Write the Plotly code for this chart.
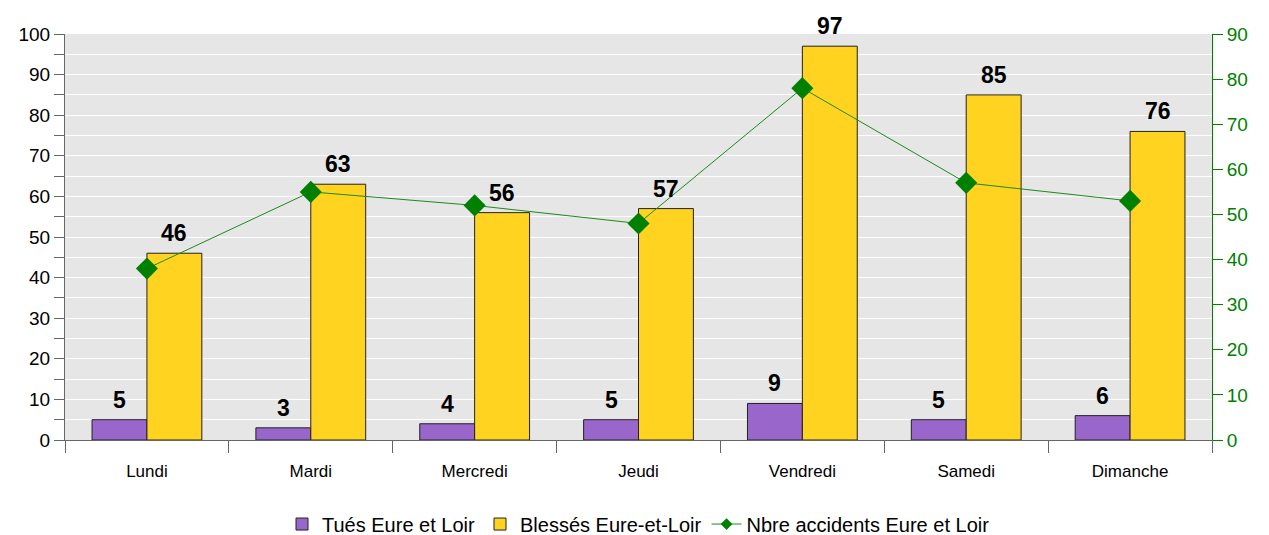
import plotly.graph_objects as go

days = ["Lundi", "Mardi", "Mercredi", "Jeudi", "Vendredi", "Samedi", "Dimanche"]
tues = [5, 3, 4, 5, 9, 5, 6]
blesses = [46, 63, 56, 57, 97, 85, 76]
accidents = [38, 55, 52, 48, 78, 57, 53]

FONT = "Liberation Sans, Arial, sans-serif"
GREEN = "#008000"
LINE_GREEN = "#1A8C1A"

fig = go.Figure()
fig.add_trace(go.Bar(
    x=days, y=tues, name="Tués Eure et Loir",
    marker=dict(color="#9966CC", line=dict(color="#222222", width=1)),
))
fig.add_trace(go.Bar(
    x=days, y=blesses, name="Blessés Eure-et-Loir",
    marker=dict(color="#FFD320", line=dict(color="#222222", width=1)),
))
fig.add_trace(go.Scatter(
    x=days, y=accidents, name="Nbre accidents Eure et Loir", yaxis="y2",
    mode="lines+markers", showlegend=False,
    line=dict(color=LINE_GREEN, width=1),
    marker=dict(symbol="diamond", size=17, color=GREEN),
))
# legend entry with smaller marker
fig.add_trace(go.Scatter(
    x=[None], y=[None], name="Nbre accidents Eure et Loir", yaxis="y2",
    mode="lines+markers",
    line=dict(color=LINE_GREEN, width=1),
    marker=dict(symbol="diamond", size=9, color=GREEN),
))

# data labels
half = 27.5
for d, v in zip(days, tues):
    fig.add_annotation(x=d, y=v, xref="x", yref="y", text=f"<b>{v}</b>",
                       showarrow=False, yanchor="bottom", xshift=-half, yshift=5,
                       font=dict(family=FONT, size=23, color="black"))
for d, v in zip(days, blesses):
    fig.add_annotation(x=d, y=v, xref="x", yref="y", text=f"<b>{v}</b>",
                       showarrow=False, yanchor="bottom", xshift=half, yshift=5,
                       font=dict(family=FONT, size=23, color="black"))

fig.update_layout(
    width=1269, height=535,
    margin=dict(l=57, r=65, t=26, b=103, autoexpand=False),
    paper_bgcolor="white", plot_bgcolor="#E6E6E6",
    barmode="group", bargap=0.33, bargroupgap=0,
    font=dict(family=FONT, size=16, color="black"),
    showlegend=True,
    legend=dict(orientation="h", x=0.5, xanchor="center", y=-0.207, yanchor="middle",
                font=dict(family=FONT, size=20), itemwidth=30, tracegroupgap=0),
    xaxis=dict(
        type="category", tickson="boundaries", ticks="outside", ticklen=12,
        tickcolor="#666666", showgrid=False, showline=True, linecolor="#666666",
        tickfont=dict(family=FONT, size=17), zeroline=False, automargin=False,
        ticklabelstandoff=16,
    ),
    yaxis=dict(
        range=[0, 100], dtick=10, tick0=0, ticks="outside", ticklen=10,
        tickcolor="#666666", showline=True, linecolor="#666666",
        gridcolor="white", gridwidth=1, zeroline=False, automargin=False,
        tickfont=dict(family=FONT, size=19),
        minor=dict(dtick=5, ticks="outside", ticklen=10, tickcolor="#666666",
                   showgrid=True, gridcolor="white"),
    ),
    yaxis2=dict(
        range=[0, 90], dtick=10, tick0=0, overlaying="y", side="right",
        ticks="outside", ticklen=10, tickcolor=GREEN, showline=True,
        linecolor=GREEN, showgrid=False, zeroline=False, automargin=False,
        tickfont=dict(family=FONT, size=19, color=GREEN),
    ),
)

fig.write_html("out.html")
